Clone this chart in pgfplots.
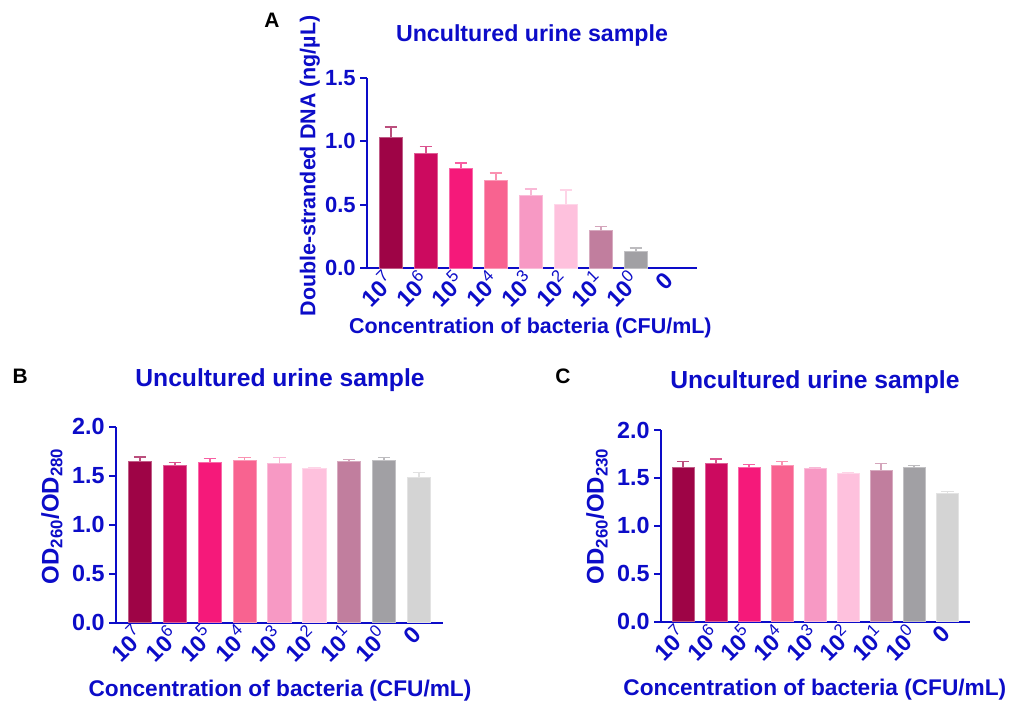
\documentclass[border=0pt]{standalone}
\usepackage{pgfplots}
\pgfplotsset{compat=1.18}
\usepackage{fontspec}
\setmainfont{Liberation Sans}
\definecolor{tb}{RGB}{12,12,200}
\definecolor{c1}{HTML}{9E0446}
\definecolor{c2}{HTML}{CC0A5F}
\definecolor{c3}{HTML}{F5197A}
\definecolor{c4}{HTML}{F86390}
\definecolor{c5}{HTML}{F799C4}
\definecolor{c6}{HTML}{FEC1DD}
\definecolor{c7}{HTML}{C17E9E}
\definecolor{c8}{HTML}{A1A0A4}
\definecolor{c9}{HTML}{D4D4D4}
\newcommand{\ex}[1]{\textbf{10}\raisebox{0.8ex}{\fontsize{12.5}{12.5}\selectfont\mdseries #1}}
\newcommand{\mybar}[4]{%
  \addplot[ybar, bar width=\bw, bar shift=0pt, fill=#1, draw=#1!65!white, line width=0.6pt,
    error bars/.cd, y dir=plus, y explicit,
    error bar style={#1!70!white, line width=1.1pt},
    error mark options={rotate=90, mark size=4.7pt, #1!70!white, line width=1.1pt}]
    coordinates {(#2,#3) +- (0,#4)};}
\pgfplotsset{
  every axis title/.style={anchor=center, text=tb, font=\fontsize{18.5}{18.5}\selectfont\bfseries},
  panel/.style={
    scale only axis, clip=false,
    axis x line*=bottom, axis y line*=left,
    axis line style={tb, line width=1.5pt, -},
    ymin=0,
    xtick={0,...,8},
    xticklabels={\ex{7},\ex{6},\ex{5},\ex{4},\ex{3},\ex{2},\ex{1},\ex{0},\textbf{0}},
    x tick style={draw=none},
    y tick style={tb, line width=1.5pt},
    tick align=outside, major tick length=5pt,
    /pgf/number format/.cd, fixed, fixed zerofill, precision=1, assume math mode=true, /pgfplots/.cd,
    xticklabel style={rotate=45, anchor=east, font=\fontsize{17.5}{17.5}\selectfont, text=tb, inner sep=1.5pt},
    xlabel style={anchor=center, text=tb, font=\fontsize{17}{17}\selectfont\bfseries},
    ylabel style={anchor=center, text=tb, font=\fontsize{17}{17}\selectfont\bfseries},
    title={Uncultured urine sample},
    xlabel={Concentration of bacteria (CFU/mL)},
  }
}
\begin{document}
\begin{tikzpicture}
\path[use as bounding box] (0,0) rectangle (771pt,528pt);
% Panel A
\def\bw{0.667}
\begin{axis}[panel,
  at={(275.25pt,327pt)}, anchor=south west,
  width=247.5pt, height=142.7pt,
  xmin=-0.68, xmax=8.75, ymax=1.5,
  ytick={0,0.5,1.0,1.5},
  yticklabel style={font=\fontsize{16.5}{16.5}\selectfont\bfseries, text=tb},
  title style={at={(axis description cs:0.5,1.224)}, font=\fontsize{17.4}{17.4}\selectfont\bfseries},
  xlabel style={at={(axis description cs:0.495,-0.315)}, font=\fontsize{16.1}{16.1}\selectfont\bfseries},
  ylabel style={at={(axis description cs:-0.173,0.536)}, font=\fontsize{16.1}{16.1}\selectfont\bfseries},
  ylabel={Double-stranded DNA (ng/µL)},
]
\mybar{c1}{0}{1.030}{0.080}
\mybar{c2}{1}{0.900}{0.057}
\mybar{c3}{2}{0.786}{0.043}
\mybar{c4}{3}{0.690}{0.060}
\mybar{c5}{4}{0.573}{0.050}
\mybar{c6}{5}{0.502}{0.113}
\mybar{c7}{6}{0.294}{0.034}
\mybar{c8}{7}{0.131}{0.027}
\addplot[ybar, bar width=\bw, bar shift=0pt, draw=none, fill=none] coordinates {(8,0)};
\node[font=\fontsize{15.7}{15.7}\selectfont\bfseries, anchor=center] at (axis description cs:-0.288,1.303) {A};
\end{axis}
% Panel B
\def\bw{0.67}
\begin{axis}[panel,
  at={(87pt,61pt)}, anchor=south west,
  width=245.5pt, height=147pt,
  xmin=-0.69, xmax=8.70, ymax=2.0,
  ytick={0,0.5,1.0,1.5,2.0},
  yticklabel style={font=\fontsize{17.5}{17.5}\selectfont\bfseries, text=tb},
  title style={at={(axis description cs:0.501,1.238)}},
  xlabel style={at={(axis description cs:0.501,-0.345)}},
  ylabel style={at={(axis description cs:-0.196,0.544)}, font=\fontsize{18}{18}\selectfont\bfseries},
  ylabel={OD\textsubscript{260}/OD\textsubscript{280}},
]
\mybar{c1}{0}{1.650}{0.040}
\mybar{c2}{1}{1.605}{0.028}
\mybar{c3}{2}{1.639}{0.034}
\mybar{c4}{3}{1.660}{0.024}
\mybar{c5}{4}{1.622}{0.062}
\mybar{c6}{5}{1.571}{0.011}
\mybar{c7}{6}{1.643}{0.020}
\mybar{c8}{7}{1.656}{0.031}
\mybar{c9}{8}{1.483}{0.048}
\node[font=\fontsize{15.7}{15.7}\selectfont\bfseries, anchor=center] at (axis description cs:-0.293,1.259) {B};
\end{axis}
% Panel C
\def\bw{0.66}
\begin{axis}[panel,
  at={(495.75pt,61.7pt)}, anchor=south west,
  width=231.75pt, height=143.8pt,
  xmin=-0.67, xmax=8.69, ymax=2.0,
  ytick={0,0.5,1.0,1.5,2.0},
  yticklabel style={font=\fontsize{17.5}{17.5}\selectfont\bfseries, text=tb},
  title style={at={(axis description cs:0.498,1.25)}},
  xlabel style={at={(axis description cs:0.498,-0.356)}},
  ylabel style={at={(axis description cs:-0.207,0.551)}, font=\fontsize{18}{18}\selectfont\bfseries},
  ylabel={OD\textsubscript{260}/OD\textsubscript{230}},
]
\mybar{c1}{0}{1.610}{0.060}
\mybar{c2}{1}{1.649}{0.048}
\mybar{c3}{2}{1.607}{0.035}
\mybar{c4}{3}{1.635}{0.038}
\mybar{c5}{4}{1.600}{0.007}
\mybar{c6}{5}{1.548}{0.007}
\mybar{c7}{6}{1.579}{0.073}
\mybar{c8}{7}{1.607}{0.024}
\mybar{c9}{8}{1.339}{0.018}
\node[font=\fontsize{15.7}{15.7}\selectfont\bfseries, anchor=center] at (axis description cs:-0.317,1.282) {C};
\end{axis}
\end{tikzpicture}
\end{document}
